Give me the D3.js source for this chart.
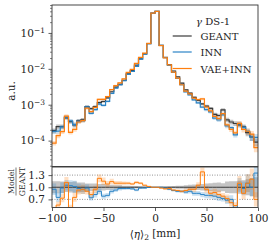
<!DOCTYPE html>
<html>
<head>
<meta charset="utf-8">
<script src="https://cdn.jsdelivr.net/npm/d3@7"></script>
<style>
  body { margin: 0; background: #fff; }
</style>
</head>
<body>
<svg id="chart" width="274" height="247" font-family="DejaVu Serif"></svg>
<script>
// histogram bins: 50 bins of 4 mm between -100 and 100
var binEdges = d3.range(-100, 101, 4);

var geantValues = [1.9e-4, 2.45e-4, 2.45e-4, 4.3e-4, 3.4e-4, 2.75e-4, 3.55e-4, 3.8e-4, 8.9e-4, 7.8e-4,
	8.9e-4, 1.15e-3, 1.23e-3, 1.55e-3, 2.3e-3, 3.1e-3, 3.7e-3, 4.8e-3, 7.2e-3, 8.9e-3,
	1.26e-2, 1.9e-2, 2.6e-2, 5.0e-2, 0.355, 0.40, 4.5e-2, 2.1e-2, 1.32e-2, 8.7e-3,
	6.0e-3, 4.0e-3, 2.6e-3, 2.1e-3, 1.6e-3, 1.32e-3, 1.05e-3, 9.1e-4, 7.9e-4, 5.4e-4,
	5.0e-4, 7.2e-4, 3.8e-4, 3.3e-4, 3.0e-4, 2.75e-4, 2.4e-4, 1.66e-4, 1.26e-4, 9.1e-5];

// Model / GEANT
var innRatio = [0.95, 0.75, 0.98, 1.05, 1.04, 1.02, 0.97, 0.95, 0.98, 0.74,
	0.82, 0.9, 0.78, 0.8, 0.9, 0.93, 0.97, 0.97, 0.97, 0.96,
	0.93, 0.98, 0.98, 1.0, 1.0, 1.0, 1.0, 0.98, 0.95, 0.92,
	0.9, 0.9, 0.88, 0.9, 0.85, 0.85, 0.82, 0.8, 0.8, 0.78,
	0.75, 0.72, 0.68, 0.7, 0.48, 1.06, 0.97, 1.1, 1.0, 1.35];

var vaeRatio = [0.45, 0.56, 0.73, 1.12, 0.5, 0.75, 0.93, 0.95, 0.9, 0.82,
	0.95, 1.22, 1.15, 1.08, 1.14, 1.1, 1.1, 1.1, 1.1, 1.08,
	1.12, 1.1, 1.05, 1.02, 1.0, 1.0, 0.98, 0.96, 0.97, 0.93,
	0.92, 0.9, 0.92, 0.95, 0.95, 1.05, 1.38, 0.95, 0.85, 0.87,
	0.82, 0.78, 0.72, 0.62, 0.55, 1.1, 0.85, 1.1, 1.2, 0.7];

// relative statistical uncertainty per bin
var relErr = [0.15, 0.15, 0.14, 0.12, 0.13, 0.14, 0.12, 0.12, 0.09, 0.09,
	0.09, 0.08, 0.08, 0.07, 0.06, 0.05, 0.05, 0.04, 0.035, 0.03,
	0.03, 0.025, 0.02, 0.015, 0.005, 0.005, 0.015, 0.02, 0.025, 0.03,
	0.035, 0.04, 0.05, 0.06, 0.07, 0.07, 0.08, 0.09, 0.1, 0.11,
	0.12, 0.1, 0.14, 0.15, 0.15, 0.16, 0.17, 0.2, 0.22, 0.25];

var xTicks = [-100, -50, 0, 50, 100];
var yTicksMain = [1e-4, 1e-3, 1e-2, 1e-1];
var yTicksRatio = [0.7, 1.0, 1.3];

var seriesNames = ["GEANT", "INN", "VAE+INN"];
var seriesColors = ["#3a3a3a", "#2b84c6", "#ff7f0e"];

var serif = "DejaVu Serif";

var left = 52, right = 258,
	mainTop = 5, mainBottom = 166.5,
	ratioTop = 167, ratioBottom = 207.5;

var svg = d3.select("#chart");

var x = d3.scaleLinear().domain([-100, 100]).range([left, right]);
var y = d3.scaleLog().domain([1.9e-5, 0.6]).range([mainBottom, mainTop]);
var yr = d3.scaleLinear().domain([0.5, 1.5]).range([ratioBottom, ratioTop]);

var defs = svg.append("defs");
defs.append("clipPath").attr("id", "clipMain").append("rect")
	.attr("x", left).attr("y", mainTop).attr("width", right - left).attr("height", mainBottom - mainTop);
defs.append("clipPath").attr("id", "clipRatio").append("rect")
	.attr("x", left).attr("y", ratioTop).attr("width", right - left).attr("height", ratioBottom - ratioTop);

function stepPoints(vals) {
	var pts = vals.map(function(v, i) { return {x: binEdges[i], v: v, i: i}; });
	pts.push({x: binEdges[vals.length], v: vals[vals.length - 1], i: vals.length - 1});
	return pts;
}

// model histograms = GEANT * ratio
var innValues = geantValues.map(function(g, i) { return g * innRatio[i]; });
var vaeValues = geantValues.map(function(g, i) { return g * vaeRatio[i]; });
var mainSeries = [geantValues, innValues, vaeValues];
var ratioSeries = [geantValues.map(function() { return 1; }), innRatio, vaeRatio];

function drawPanel(g, scale, seriesList, lw) {
	seriesList.forEach(function(vals, k) {
		var pts = stepPoints(vals);
		var band = d3.area()
			.curve(d3.curveStepAfter)
			.x(function(d) { return x(d.x); })
			.y0(function(d) { return scale(d.v * (1 - relErr[d.i])); })
			.y1(function(d) { return scale(d.v * (1 + relErr[d.i])); });
		g.append("path")
			.attr("d", band(pts))
			.attr("fill", seriesColors[k])
			.attr("fill-opacity", k == 0 ? 0.3 : 0.25);
	});
	seriesList.forEach(function(vals, k) {
		var line = d3.line()
			.curve(d3.curveStepAfter)
			.x(function(d) { return x(d.x); })
			.y(function(d) { return scale(d.v); });
		g.append("path")
			.attr("d", line(stepPoints(vals)))
			.attr("fill", "none")
			.attr("stroke", seriesColors[k])
			.attr("stroke-width", lw);
	});
}

// ratio reference lines
yTicksRatio.forEach(function(t) {
	if (t == 1.0) return;
	svg.append("line")
		.attr("x1", left).attr("x2", right)
		.attr("y1", yr(t)).attr("y2", yr(t))
		.attr("stroke", "#777").attr("stroke-width", 0.8)
		.attr("stroke-dasharray", "1,1.5");
});

var gMain = svg.append("g").attr("clip-path", "url(#clipMain)");
drawPanel(gMain, y, mainSeries, 1.2);

var gRatio = svg.append("g").attr("clip-path", "url(#clipRatio)");
drawPanel(gRatio, yr, ratioSeries, 1.0);

// frames
svg.append("rect").attr("x", left).attr("y", mainTop)
	.attr("width", right - left).attr("height", mainBottom - mainTop)
	.attr("fill", "none").attr("stroke", "#333").attr("stroke-width", 0.9);
svg.append("rect").attr("x", left).attr("y", ratioTop)
	.attr("width", right - left).attr("height", ratioBottom - ratioTop)
	.attr("fill", "none").attr("stroke", "#333").attr("stroke-width", 0.9);

// main y axis with minor ticks
var minorTicks = y.ticks().filter(function(t) {
	return yTicksMain.indexOf(t) < 0;
});
svg.append("g")
	.attr("transform", "translate(" + left + ",0)")
	.call(d3.axisLeft(y).tickValues(minorTicks).tickSize(2).tickFormat(""))
	.call(function(g) { g.select(".domain").remove(); g.selectAll("line").attr("stroke", "#333").attr("stroke-width", 0.6); });

var yAxisMain = svg.append("g")
	.attr("transform", "translate(" + left + ",0)")
	.call(d3.axisLeft(y).tickValues(yTicksMain).tickSize(3.5).tickPadding(3.5))
	.attr("font-family", serif);
yAxisMain.select(".domain").remove();
yAxisMain.selectAll("line").attr("stroke", "#333").attr("stroke-width", 0.8);
yAxisMain.selectAll("text").each(function(d) {
	var t = d3.select(this).text("").attr("font-size", 10.5).attr("fill", "#222");
	t.append("tspan").text("10");
	t.append("tspan").attr("dy", "-0.45em").attr("font-size", 7.5)
		.text("\u2212" + Math.round(-Math.log10(d)));
});

// ratio y axis
var yAxisRatio = svg.append("g")
	.attr("transform", "translate(" + left + ",0)")
	.call(d3.axisLeft(yr).tickValues(yTicksRatio).tickSize(3.5).tickPadding(3.5).tickFormat(d3.format(".1f")))
	.attr("font-family", serif);
yAxisRatio.select(".domain").remove();
yAxisRatio.selectAll("line").attr("stroke", "#333").attr("stroke-width", 0.8);
yAxisRatio.selectAll("text").attr("font-size", 10.5).attr("fill", "#222");

// x axis
var xAxis = svg.append("g")
	.attr("transform", "translate(0," + ratioBottom + ")")
	.call(d3.axisBottom(x).tickValues(xTicks).tickSize(3.5).tickPadding(3.5)
		.tickFormat(function(d) { return d < 0 ? "\u2212" + Math.abs(d) : d; }))
	.attr("font-family", serif);
xAxis.select(".domain").remove();
xAxis.selectAll("line").attr("stroke", "#333").attr("stroke-width", 0.8);
xAxis.selectAll("text").attr("font-size", 10.5).attr("fill", "#222");

// axis labels
var xl = svg.append("text")
	.attr("x", (left + right) / 2).attr("y", 238)
	.attr("text-anchor", "middle").attr("font-size", 10.5).attr("fill", "#222");
xl.append("tspan").text("\u27E8");
xl.append("tspan").attr("font-style", "italic").text("\u03B7");
xl.append("tspan").text("\u27E9");
xl.append("tspan").attr("font-size", 7.5).attr("dy", "0.3em").text("2");
xl.append("tspan").attr("dy", "-0.3em").text(" [mm]");

svg.append("text")
	.attr("transform", "translate(15,91) rotate(-90)")
	.attr("text-anchor", "middle").attr("font-size", 10.5).attr("fill", "#222")
	.text("a.u.");

var ratioLabel = svg.append("g").attr("transform", "translate(0,181.5)").attr("fill", "#222");
ratioLabel.append("text")
	.attr("transform", "translate(13.8,0) rotate(-90)")
	.attr("text-anchor", "middle").attr("font-size", 7.8).text("Model");
ratioLabel.append("line")
	.attr("x1", 16).attr("x2", 16).attr("y1", -14).attr("y2", 14)
	.attr("stroke", "#222").attr("stroke-width", 0.6);
ratioLabel.append("text")
	.attr("transform", "translate(25,0) rotate(-90)")
	.attr("text-anchor", "middle").attr("font-size", 7.8).text("GEANT");

// legend
var legend = svg.append("g").attr("fill", "#222");
var lt = legend.append("text").attr("x", 196).attr("y", 25).attr("font-size", 10);
lt.append("tspan").attr("font-style", "italic").text("\u03B3");
lt.append("tspan").text(" DS-1");
var legendY = [36, 52, 68.5];
seriesNames.forEach(function(name, k) {
	legend.append("line")
		.attr("x1", 172.7).attr("x2", 191.7)
		.attr("y1", legendY[k]).attr("y2", legendY[k])
		.attr("stroke", seriesColors[k]).attr("stroke-width", 1.2);
	legend.append("text")
		.attr("x", 200.5).attr("y", legendY[k] + 4)
		.attr("font-size", 10)
		.text(name);
});
</script>
</body>
</html>
